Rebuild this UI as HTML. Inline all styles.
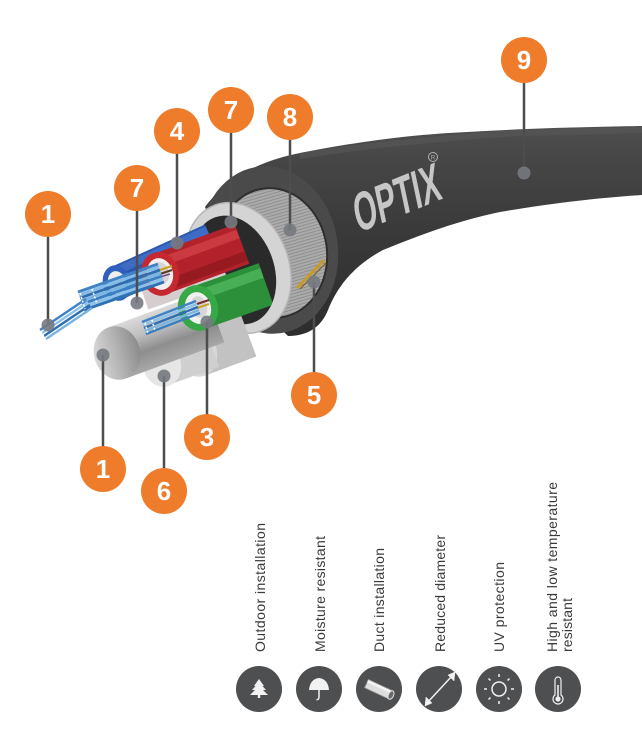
<!DOCTYPE html>
<html><head><meta charset="utf-8"><style>
html,body{margin:0;padding:0;background:#fff;}
svg{display:block;}
</style></head><body>
<svg width="642" height="742" viewBox="0 0 642 742" xmlns="http://www.w3.org/2000/svg">
<defs>
 <linearGradient id="jk" x1="0" y1="120" x2="0" y2="320" gradientUnits="userSpaceOnUse">
  <stop offset="0" stop-color="#505050"/>
  <stop offset="0.2" stop-color="#464646"/>
  <stop offset="0.55" stop-color="#3a3a3a"/>
  <stop offset="1" stop-color="#2e2e2e"/>
 </linearGradient>
 <pattern id="hatch" width="6" height="3" patternUnits="userSpaceOnUse" patternTransform="rotate(-8)">
  <rect width="6" height="3" fill="#ababab"/>
  <rect width="6" height="1" fill="#8f8f8f"/>
 </pattern>
 <linearGradient id="silv" x1="108" y1="327" x2="126" y2="378" gradientUnits="userSpaceOnUse">
  <stop offset="0" stop-color="#dadada"/>
  <stop offset="0.35" stop-color="#bdbdbd"/>
  <stop offset="0.65" stop-color="#8e8e8e"/>
  <stop offset="1" stop-color="#a8a8a8"/>
 </linearGradient>
 <linearGradient id="silvface" x1="0" y1="0" x2="1" y2="0">
  <stop offset="0" stop-color="#d8d8d8"/>
  <stop offset="0.5" stop-color="#b4b4b4"/>
  <stop offset="1" stop-color="#8c8c8c"/>
 </linearGradient>
 <clipPath id="cp">
  <ellipse cx="234" cy="270" rx="40" ry="56" transform="rotate(-20 234 270)"/>
  <polygon points="142,30 300,450 0,510 0,30"/>
 </clipPath>
</defs>

<rect width="642" height="742" fill="#fff"/>

<!-- cable jacket body -->
<path d="M205,207 C230,174 265,160 300,153 C340,145 400,135 467,132 C520,129 570,127 642,126 L642,195 C600,198 560,202 500,212 C460,220 420,235 383,250 C355,265 338,285 328,310 C322,325 310,336 288,336 L240,290 Z" fill="url(#jk)"/>
<path d="M300,156 C360,146 440,138 520,133 L642,130" stroke="#5a5a5a" stroke-width="6" fill="none" opacity="0.5"/>

<!-- jacket end face -->
<ellipse cx="269" cy="250" rx="69" ry="84" transform="rotate(-8 269 250)" fill="#4a4a4a"/>
<!-- armour (8) -->
<ellipse cx="272" cy="253" rx="55" ry="65" transform="rotate(-8 272 253)" fill="url(#hatch)" stroke="#2e2e2e" stroke-width="2"/>
<!-- strength member (5) -->
<path d="M297,288 L324,260" stroke="#c79a2a" stroke-width="3" fill="none"/>
<path d="M300,289 L326,263" stroke="#7a5a18" stroke-width="1" fill="none"/>
<!-- aluminium tape ring (7) -->
<ellipse cx="238" cy="268" rx="51" ry="67" transform="rotate(-20 238 268)" fill="#d4d4d4" stroke="#b5b5b5" stroke-width="1.5"/>
<ellipse cx="234" cy="270" rx="40" ry="56" transform="rotate(-20 234 270)" fill="#2a2a2a"/>

<g clip-path="url(#cp)">
 <!-- water blocking tape -->
 <line x1="145" y1="300" x2="225" y2="272" stroke="#d6cdcf" stroke-width="20"/>
 <!-- blue tube -->
 <line x1="117" y1="283" x2="212" y2="240" stroke="#2a56ae" stroke-width="34"/>
 <line x1="112" y1="273" x2="207" y2="230" stroke="#4d7bd0" stroke-width="8" opacity="0.6"/>
 <ellipse cx="117" cy="283" rx="14" ry="18" transform="rotate(-15 117 283)" fill="#3060bd"/>
 <ellipse cx="117" cy="283" rx="9" ry="12" transform="rotate(-15 117 283)" fill="#eeeeee"/>
 <!-- red tube -->
 <line x1="160" y1="274" x2="242" y2="244" stroke="#b3222a" stroke-width="42"/>
 <line x1="156" y1="264" x2="238" y2="234" stroke="#dc4f53" stroke-width="9" opacity="0.55"/>
 <line x1="164" y1="286" x2="246" y2="256" stroke="#7c141a" stroke-width="10" opacity="0.5"/>
 <ellipse cx="160" cy="274" rx="19" ry="22" transform="rotate(-15 160 274)" fill="#c6282f"/>
 <ellipse cx="160" cy="274" rx="13" ry="16" transform="rotate(-15 160 274)" fill="#f3efef"/>
 <ellipse cx="161" cy="273" rx="8" ry="11" transform="rotate(-15 161 273)" fill="#d9d4d4"/>
 <line x1="160" y1="270" x2="172" y2="266" stroke="#c8a21e" stroke-width="2"/>
 <line x1="160" y1="274" x2="172" y2="270" stroke="#5a3b2a" stroke-width="2"/>
 <line x1="160" y1="277" x2="170" y2="274" stroke="#7a4a8a" stroke-width="1.5"/>
 <!-- gray rod (right) -->
 <line x1="197" y1="353" x2="248" y2="334" stroke="#c2c2c2" stroke-width="48"/>
 <ellipse cx="197" cy="353" rx="20" ry="24" transform="rotate(-15 197 353)" fill="#d8d8d8"/>
 <!-- white rod (6) -->
 <line x1="162" y1="365" x2="212" y2="347" stroke="#cfcfcf" stroke-width="42"/>
 <ellipse cx="162" cy="365" rx="19" ry="22" transform="rotate(-15 162 365)" fill="#e6e6e6"/>
 <!-- silver rod (1) -->
 <line x1="117" y1="353" x2="215" y2="317" stroke="url(#silv)" stroke-width="54"/>
 <ellipse cx="117" cy="353" rx="23" ry="27" transform="rotate(-15 117 353)" fill="url(#silvface)"/>
 <!-- green tube (3) -->
 <line x1="198" y1="308" x2="266" y2="284" stroke="#2b9039" stroke-width="44"/>
 <line x1="194" y1="297" x2="262" y2="273" stroke="#5cc46a" stroke-width="10" opacity="0.6"/>
 <ellipse cx="198" cy="308" rx="20" ry="23" transform="rotate(-15 198 308)" fill="#36a845"/>
 <ellipse cx="198" cy="308" rx="13" ry="16" transform="rotate(-15 198 308)" fill="#f1f1f1"/>
 <ellipse cx="199" cy="307" rx="8" ry="11" transform="rotate(-15 199 307)" fill="#d6d6d6"/>
 <line x1="197" y1="304" x2="209" y2="300" stroke="#7a2a2a" stroke-width="2"/>
 <line x1="197" y1="308" x2="209" y2="304" stroke="#c8a21e" stroke-width="2"/>
</g>

<!-- fibre bundles -->
<g stroke-linecap="butt" fill="none">
 <line x1="158" y1="264" x2="78" y2="292" stroke="#3f83c6" stroke-width="3"/>
 <line x1="159" y1="267" x2="79" y2="295" stroke="#86bde8" stroke-width="3"/>
 <line x1="160" y1="270" x2="80" y2="298" stroke="#2f6fb0" stroke-width="3"/>
 <line x1="161" y1="273" x2="81" y2="301" stroke="#7ab4e2" stroke-width="3"/>
 <line x1="162" y1="276" x2="82" y2="304" stroke="#3a7fc2" stroke-width="3"/>
 <line x1="163" y1="279" x2="83" y2="307" stroke="#8cc2ea" stroke-width="3"/>
 <line x1="164" y1="282" x2="84" y2="310" stroke="#3073b4" stroke-width="3"/>
 <line x1="86" y1="299" x2="40" y2="330" stroke="#3f83c6" stroke-width="2.5"/>
 <line x1="88" y1="302" x2="42" y2="333" stroke="#8cc2ea" stroke-width="2.5"/>
 <line x1="90" y1="305" x2="44" y2="336" stroke="#2f6fb0" stroke-width="2.5"/>
 <line x1="92" y1="308" x2="46" y2="339" stroke="#7ab4e2" stroke-width="2.5"/>
 <line x1="196" y1="301" x2="142" y2="322" stroke="#3f83c6" stroke-width="2.5"/>
 <line x1="197" y1="304" x2="143" y2="325" stroke="#8cc2ea" stroke-width="2.5"/>
 <line x1="198" y1="307" x2="144" y2="328" stroke="#2f6fb0" stroke-width="2.5"/>
 <line x1="199" y1="310" x2="145" y2="331" stroke="#7ab4e2" stroke-width="2.5"/>
 <line x1="200" y1="313" x2="146" y2="334" stroke="#3a7fc2" stroke-width="2.5"/>
 <path d="M80,293 l5,16 M92,289 l5,15 M41,331 l4,8 M145,323 l3,11 M152,320 l3,11" stroke="#ffffff" stroke-width="1.5" stroke-dasharray="2 2"/>
</g>

<!-- OPTIX logo -->
<text transform="matrix(0.927,-0.375,0.206,0.978,358,233)" font-family="Liberation Sans, sans-serif" font-weight="bold" font-size="54" fill="#c6c6c6" textLength="92" lengthAdjust="spacingAndGlyphs">OPTIX</text>
<circle cx="433" cy="157" r="4.5" fill="none" stroke="#b0b0b0" stroke-width="1"/>
<text x="433" y="159.5" font-family="Liberation Sans, sans-serif" font-size="6" fill="#b0b0b0" text-anchor="middle">R</text>

<!-- label connectors -->
<g stroke="#4d4d4d" stroke-width="2.5">
 <line x1="524" y1="60" x2="524" y2="173"/>
 <line x1="290" y1="117" x2="290" y2="230"/>
 <line x1="231" y1="110" x2="231" y2="222"/>
 <line x1="177" y1="131" x2="177" y2="243"/>
 <line x1="137" y1="188" x2="137" y2="303"/>
 <line x1="48" y1="214" x2="48" y2="325"/>
 <line x1="314" y1="395" x2="314" y2="282"/>
 <line x1="207" y1="437" x2="207" y2="322"/>
 <line x1="103" y1="469" x2="103" y2="355"/>
 <line x1="164" y1="491" x2="164" y2="376"/>
</g>
<g fill="#767a80" opacity="0.9">
 <circle cx="524" cy="173" r="6.5"/>
 <circle cx="290" cy="230" r="6.5"/>
 <circle cx="231" cy="222" r="6.5"/>
 <circle cx="177" cy="243" r="6.5"/>
 <circle cx="137" cy="303" r="6.5"/>
 <circle cx="48" cy="325" r="6.5"/>
 <circle cx="314" cy="282" r="6.5"/>
 <circle cx="207" cy="322" r="6.5"/>
 <circle cx="103" cy="355" r="6.5"/>
 <circle cx="164" cy="376" r="6.5"/>
</g>

<!-- orange numbered circles -->
<g fill="#ee7c2b">
 <circle cx="524" cy="60" r="23"/>
 <circle cx="290" cy="117" r="23"/>
 <circle cx="231" cy="110" r="23"/>
 <circle cx="177" cy="131" r="23"/>
 <circle cx="137" cy="188" r="23"/>
 <circle cx="48" cy="214" r="23"/>
 <circle cx="314" cy="395" r="23"/>
 <circle cx="207" cy="437" r="23"/>
 <circle cx="103" cy="469" r="23"/>
 <circle cx="164" cy="491" r="23"/>
</g>
<g fill="#ffffff" font-family="Liberation Sans, sans-serif" font-weight="bold" font-size="26" text-anchor="middle">
 <text x="524" y="69">9</text>
 <text x="290" y="126">8</text>
 <text x="231" y="119">7</text>
 <text x="177" y="140">4</text>
 <text x="137" y="197">7</text>
 <text x="48" y="223">1</text>
 <text x="314" y="404">5</text>
 <text x="207" y="446">3</text>
 <text x="103" y="478">1</text>
 <text x="164" y="500">6</text>
</g>

<!-- feature labels -->
<g fill="#3a3a3a" font-family="Liberation Sans, sans-serif" font-size="14" lengthAdjust="spacingAndGlyphs">
 <text transform="translate(265,652) rotate(-90)" textLength="129">Outdoor installation</text>
 <text transform="translate(325,652) rotate(-90)" textLength="116">Moisture resistant</text>
 <text transform="translate(384,652) rotate(-90)" textLength="104">Duct installation</text>
 <text transform="translate(445,652) rotate(-90)" textLength="117">Reduced diameter</text>
 <text transform="translate(504,652) rotate(-90)" textLength="90">UV protection</text>
 <text transform="translate(557,652) rotate(-90)" textLength="170">High and low temperature</text>
 <text transform="translate(572,652) rotate(-90)" textLength="54">resistant</text>
</g>

<!-- feature icons -->
<g fill="#4e4f51">
 <circle cx="259" cy="689" r="23"/>
 <circle cx="319" cy="689" r="23"/>
 <circle cx="379" cy="689" r="23"/>
 <circle cx="439" cy="689" r="23"/>
 <circle cx="499" cy="689" r="23"/>
 <circle cx="558" cy="689" r="23"/>
</g>
<!-- tree -->
<g fill="#f2f2f2">
 <polygon points="259,679 254,686 264,686"/>
 <polygon points="259,682 252,690 266,690"/>
 <polygon points="259,686 250,695 268,695"/>
 <rect x="257.8" y="695" width="2.4" height="3"/>
</g>
<!-- umbrella -->
<path d="M309,690 Q310,679 319,678 Q328,679 329,690 Z" fill="#f2f2f2"/>
<path d="M319,689 L319,697 Q319,700 316.5,699.5" stroke="#f2f2f2" stroke-width="1.5" fill="none"/>
<!-- duct pipe -->
<g transform="rotate(25 379 690)">
 <rect x="365" y="685" width="27" height="9" fill="#dedede" stroke="#9a9a9a" stroke-width="0.8"/>
 <rect x="365" y="685.5" width="27" height="2.5" fill="#f4f4f4"/>
 <ellipse cx="392" cy="689.5" rx="2.6" ry="4.5" fill="#6a6a6a" stroke="#e4e4e4" stroke-width="1"/>
</g>
<!-- diameter arrow -->
<g stroke="#f2f2f2" stroke-width="1.5" fill="#f2f2f2">
 <line x1="427" y1="703" x2="452" y2="676"/>
 <polygon points="425,706 426,697 432,703" stroke-width="0.5"/>
 <polygon points="455,672 454,681 448,675" stroke-width="0.5"/>
</g>
<!-- sun -->
<g stroke="#f0f0f0" stroke-width="1.5" fill="none">
 <circle cx="499" cy="689" r="7"/>
 <path d="M499,677 v-3 M499,701 v3 M487,689 h-3 M511,689 h3 M490.5,680.5 l-2,-2 M507.5,680.5 l2,-2 M490.5,697.5 l-2,2 M507.5,697.5 l2,2"/>
</g>
<!-- thermometer -->
<g stroke="#f0f0f0" fill="none" stroke-width="1.2">
 <path d="M555,695 V680 a3,3 0 0 1 6,0 V695 a5,5 0 1 1 -6,0 Z"/>
 <line x1="558" y1="685" x2="558" y2="698" stroke-width="1.6"/>
 <circle cx="558" cy="699" r="2" fill="#f0f0f0"/>
</g>
</svg>
</body></html>
